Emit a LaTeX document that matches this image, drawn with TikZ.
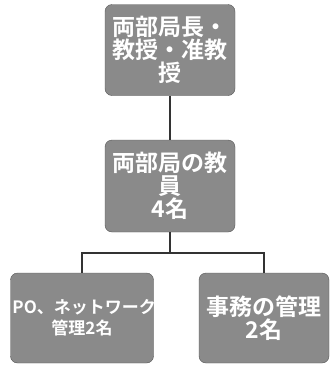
\documentclass[tikz,border=0pt]{standalone}
\usepackage{fontspec}
\newfontfamily\jpfont{Noto Sans CJK JP}[BoldFont={Noto Sans CJK JP Bold}]
\usepackage{tikz}
\usetikzlibrary{positioning}
\definecolor{boxgray}{HTML}{8A8A8A}
\definecolor{edgegray}{HTML}{555555}

\begin{document}
\begin{tikzpicture}[x=1pt,y=-1pt,every node/.style={font=\jpfont\bfseries\fontsize{23}{23}\selectfont},
  orgbox/.style={draw=edgegray,fill=boxgray,rounded corners=7pt,text=white,align=center,inner sep=1pt}]
\useasboundingbox (0,0) rectangle (330,365);
\node[orgbox,minimum width=130pt,minimum height=91pt,text width=126pt] (chief) at (170,50) {両部局長・\\教授・准教\\授};
\node[orgbox,minimum width=130pt,minimum height=92pt,text width=126pt] (staff) at (170,186) {両部局の教\\員\\4名};
\node[orgbox,minimum width=143pt,minimum height=90pt,text width=139pt,font=\jpfont\bfseries\fontsize{17}{21}\selectfont] (netw) at (82,318) {PO、ネットワーク\\管理2名};
\node[orgbox,minimum width=130pt,minimum height=90pt,text width=126pt] (office) at (264,318) {事務の管理\\2名};
\coordinate (split) at (170,253);
% connectors
\draw[black!80,line width=1.3pt] (chief) -- (staff);
\draw[black!80,line width=1.3pt] (staff) -- (split);
\draw[black!80,line width=1.3pt] (netw) |- (split) -| (office);
\end{tikzpicture}
\end{document}
